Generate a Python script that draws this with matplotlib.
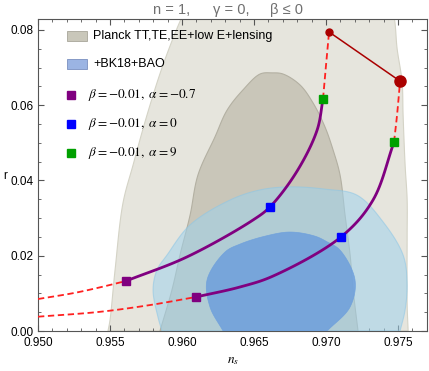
import numpy as np
import matplotlib
matplotlib.use('Agg')
import matplotlib.pyplot as plt

plt.rcParams['font.family'] = ['Liberation Sans', 'DejaVu Sans']
plt.rcParams['mathtext.fontset'] = 'stix'

# contour outlines (n_s, r), bottom-left -> over the top -> bottom-right
planck95_ns = [0.95486, 0.95500, 0.95535, 0.95590, 0.95660, 0.95757, 0.95868, 0.95993, 0.9606,
               0.9744, 0.97475, 0.97493, 0.97528, 0.97535, 0.97549, 0.97563, 0.97563, 0.97563, 0.9757]
planck95_r = [0.0, 0.0029, 0.0162, 0.0340, 0.0441, 0.0574, 0.0707, 0.0829, 0.0880,
              0.0880, 0.0829, 0.0752, 0.0662, 0.0574, 0.0441, 0.0350, 0.0250, 0.0074, 0.0]

planck68_ns = [0.95847, 0.9593, 0.95986, 0.96056, 0.96111, 0.96229, 0.96313, 0.96424,
               0.96542, 0.96625, 0.96701, 0.96819, 0.96910, 0.96993, 0.97049, 0.97097, 0.97132,
               0.97167, 0.97188, 0.97222]
planck68_r = [0.0, 0.0109, 0.0202, 0.0308, 0.0415, 0.0516, 0.0587, 0.0641,
              0.0683, 0.0686, 0.0683, 0.0654, 0.0606, 0.0542, 0.0481, 0.0415, 0.0308,
              0.0202, 0.0109, 0.0]

bk95_ns = [0.95861, 0.95833, 0.95799, 0.95826, 0.95896, 0.96056, 0.96333, 0.96542, 0.9675,
           0.96993, 0.97215, 0.97396, 0.97535, 0.97563, 0.97549, 0.97514]
bk95_r = [0.0, 0.0037, 0.0109, 0.0162, 0.0202, 0.0282, 0.0348, 0.0375, 0.0383,
          0.0377, 0.0361, 0.0290, 0.0202, 0.0128, 0.0056, 0.0]

bk68_ns = [0.96285, 0.96194, 0.96174, 0.96299, 0.96403, 0.96576, 0.9675, 0.96924, 0.97007,
           0.97097, 0.97201, 0.97167, 0.97007]
bk68_r = [0.0, 0.0064, 0.0136, 0.0210, 0.0231, 0.0252, 0.0263, 0.0252, 0.0237,
          0.0215, 0.0136, 0.0064, 0.0]

# left curve
a_dash_ns = [0.950, 0.9525, 0.9543, 0.95611]
a_dash_r = [0.0085, 0.0101, 0.0116, 0.01329]
a_ns = [0.95611, 0.96035, 0.96493, 0.96611, 0.96799, 0.96938, 0.96979]
a_r = [0.01329, 0.0197, 0.0295, 0.0330, 0.0425, 0.0534, 0.06166]
a_up_ns = [0.96979, 0.9700, 0.97021]
a_up_r = [0.06166, 0.0707, 0.07947]

# right curve
b_dash_ns = [0.950, 0.9543, 0.95778, 0.96097]
b_dash_r = [0.0038, 0.0051, 0.0069, 0.00904]
b_ns = [0.96097, 0.96403, 0.96632, 0.97104, 0.97326, 0.97472]
b_r = [0.00904, 0.0117, 0.0146, 0.0250, 0.0348, 0.0502]
b_up_ns = [0.97472, 0.97493, 0.97514]
b_up_r = [0.0502, 0.0574, 0.0664]

# markers (alpha = -0.7, 0, 9) on each curve
sq_ns_a = [0.95611, 0.96611, 0.96979]
sq_r_a = [0.01329, 0.0330, 0.06166]
sq_ns_b = [0.96097, 0.97104, 0.97472]
sq_r_b = [0.00904, 0.0250, 0.0502]
sq_colors = ['#800080', '#0000ff', '#00a000']

end_ns = [0.97021, 0.97514]
end_r = [0.07947, 0.0664]

patch_labels = ['Planck TT,TE,EE+low E+lensing', '+BK18+BAO']
patch_colors = ['#c9c7ba', '#9bb4e3']
patch_edges = ['#a8a69a', '#7a90c0']
marker_labels = [r'$\beta=-0.01,\ \alpha=-0.7$',
                 r'$\beta=-0.01,\ \alpha=0$',
                 r'$\beta=-0.01,\ \alpha=9$']

SX, SY = 14400.0, 3762.5  # px per unit, so smoothing is done in screen-like space


def smooth(xs, ys, n=16):
    # centripetal catmull-rom through the read points
    p = np.column_stack([np.asarray(xs) * SX, np.asarray(ys) * SY])
    p = np.vstack([2 * p[0] - p[1], p, 2 * p[-1] - p[-2]])
    out = []
    for i in range(1, len(p) - 2):
        P0, P1, P2, P3 = p[i - 1], p[i], p[i + 1], p[i + 2]
        t0 = 0.0
        t1 = t0 + np.linalg.norm(P1 - P0) ** 0.5
        t2 = t1 + np.linalg.norm(P2 - P1) ** 0.5
        t3 = t2 + np.linalg.norm(P3 - P2) ** 0.5
        t = np.linspace(t1, t2, n, endpoint=False)[:, None]
        A1 = (t1 - t) / (t1 - t0) * P0 + (t - t0) / (t1 - t0) * P1
        A2 = (t2 - t) / (t2 - t1) * P1 + (t - t1) / (t2 - t1) * P2
        A3 = (t3 - t) / (t3 - t2) * P2 + (t - t2) / (t3 - t2) * P3
        B1 = (t2 - t) / (t2 - t0) * A1 + (t - t0) / (t2 - t0) * A2
        B2 = (t3 - t) / (t3 - t1) * A2 + (t - t1) / (t3 - t1) * A3
        out.append((t2 - t) / (t2 - t1) * B1 + (t - t1) / (t2 - t1) * B2)
    out.append(p[-2][None])
    out = np.vstack(out)
    return out[:, 0] / SX, out[:, 1] / SY


fig = plt.figure(figsize=(4.29, 3.71), dpi=100)
ax = fig.add_axes([38/429, 40/371, 389/429, 312/371])

ax.fill(*smooth(planck95_ns, planck95_r), facecolor='#e6e5dd', edgecolor='#d4d3c6', lw=0.8, zorder=1)
ax.fill(*smooth(planck68_ns, planck68_r), facecolor='#c9c6b9', edgecolor='#b3b0a2', lw=0.8, zorder=2)
ax.fill(*smooth(bk95_ns, bk95_r), facecolor='#9fd2ec', edgecolor='#8cc6e6', alpha=0.55, lw=0.8, zorder=3)
ax.fill(*smooth(bk68_ns, bk68_r), facecolor='#6d9fdc', edgecolor='#6d9fdc', alpha=0.85, lw=0.5, zorder=4)

red = '#ff2020'
for xs, ys in [(a_dash_ns, a_dash_r), (b_dash_ns, b_dash_r), (a_up_ns, a_up_r), (b_up_ns, b_up_r)]:
    ax.plot(*smooth(xs, ys), color=red, lw=1.3, dashes=(3.5, 2), zorder=5)
ax.plot(*smooth(a_ns, a_r), color='#800080', lw=2.0, zorder=6)
ax.plot(*smooth(b_ns, b_r), color='#800080', lw=2.0, zorder=6)
ax.plot(end_ns, end_r, color='#aa0000', lw=1.1, zorder=6)
ax.plot(end_ns[0], end_r[0], 'o', color='#aa0000', ms=5, zorder=7)
ax.plot(end_ns[1], end_r[1], 'o', color='#aa0000', ms=8, zorder=7)
for i in range(3):
    ax.plot(sq_ns_a[i], sq_r_a[i], 's', color=sq_colors[i], ms=5.5, zorder=8)
    ax.plot(sq_ns_b[i], sq_r_b[i], 's', color=sq_colors[i], ms=5.5, zorder=8)

ax.set_xlim(0.950, 0.97701)
ax.set_ylim(0.0, 0.08292)
ax.set_xticks([0.950, 0.955, 0.960, 0.965, 0.970, 0.975])
ax.set_xticklabels(['0.950', '0.955', '0.960', '0.965', '0.970', '0.975'])
ax.set_yticks([0.0, 0.02, 0.04, 0.06, 0.08])
ax.set_yticklabels(['0.00', '0.02', '0.04', '0.06', '0.08'])
ax.set_xticks(np.arange(0.950, 0.9771, 0.001), minor=True)
ax.set_yticks(np.arange(0.0, 0.0830, 0.005), minor=True)
ax.tick_params(which='both', direction='in', top=True, right=True, labelsize=8.5,
               color='#555555')
ax.tick_params(axis='x', pad=4)
ax.tick_params(axis='y', pad=3)
ax.tick_params(which='major', length=4)
ax.tick_params(which='minor', length=2)
for s in ax.spines.values():
    s.set_color('#555555')

ax.set_xlabel(r'$n_s$', fontsize=9.5)
ax.xaxis.set_label_coords(0.501, -0.077)
ax.set_ylabel('r', rotation=0, fontsize=8.5, ha='center', va='center')
ax.yaxis.set_label_coords(-0.085, 0.497)

for txt, cx in [('n = 1,', 172), ('γ = 0,', 231), ('β ≤ 0', 286)]:
    fig.text(cx/429, 1 - 10/371, txt, ha='center', va='center', fontsize=10.5, color='#707070')


# hand-placed legend, positions in axes pixels
def axp(px, py):
    return (px - 38) / 389, (331 - py) / 312


for i, lab in enumerate(patch_labels):
    cy = [36, 64][i]
    x0, y0 = axp(67, cy + 5)
    ax.add_patch(plt.Rectangle((x0, y0), 20/389, 10/312, transform=ax.transAxes,
                               facecolor=patch_colors[i], edgecolor=patch_edges[i], lw=0.6, zorder=9))
    ax.text(*axp(93, cy), lab, transform=ax.transAxes, va='center', ha='left', fontsize=9, zorder=9)
for i, lab in enumerate(marker_labels):
    cy = [95, 124, 153][i]
    ax.plot(*axp(71, cy), 's', color=sq_colors[i], ms=5.5, transform=ax.transAxes, zorder=9)
    ax.text(*axp(88, cy), lab, transform=ax.transAxes, va='center', ha='left', fontsize=9.5, zorder=9)

fig.savefig('out.png', dpi=100)
